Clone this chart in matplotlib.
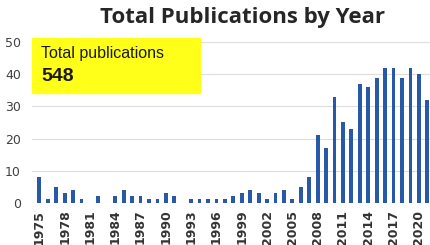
import matplotlib.pyplot as plt
from matplotlib.patches import Rectangle

years = list(range(1975, 2022))
counts = [8, 1, 5, 3, 4, 1, 0, 2, 0, 2, 4, 2, 2, 1, 1, 3, 2,
          0, 1, 1, 1, 1, 1, 2, 3, 4, 3, 1, 3, 4, 1, 5, 8,
          21, 17, 33, 25, 23, 37, 36, 39, 42, 42, 39, 42, 40, 32]
tick_years = list(range(1975, 2021, 3))
total = sum(counts)

fig = plt.figure(figsize=(4.3, 2.45), dpi=100)
ax = fig.add_axes([32 / 430, (245 - 202.7) / 245, 398 / 430, 160.4 / 245])

ax.bar(years, counts, width=0.45, color='#2858a8', zorder=3)
ax.set_xlim(1974.13, 2021.32)
ax.set_ylim(0, 50)
ax.set_yticks(range(0, 51, 10))
ax.set_xticks(tick_years)
ax.set_xticklabels([str(y) for y in tick_years], rotation=90,
                   fontsize=9, fontweight='bold', color='#333333')
ax.tick_params(axis='y', labelsize=9, labelcolor='#404040', length=0, pad=8)
ax.tick_params(axis='x', length=0, pad=5)
ax.grid(axis='y', color='#dddddd', lw=0.8, zorder=0)
for s in ax.spines.values():
    s.set_visible(False)
ax.axhline(0, color='#e4e4e4', lw=0.8, zorder=1)

# yellow summary box
box = Rectangle((32 / 430, (245 - 93) / 245), 168 / 430, 55 / 245,
                transform=fig.transFigure, color='#ffff1a', zorder=5)
fig.patches.append(box)
fig.text(41 / 430, (245 - 53) / 245, 'Total publications', fontsize=11.5,
         family='Liberation Sans', color='#1a1a1a', va='center', zorder=6)
fig.text(41 / 430, (245 - 76.5) / 245, str(total), fontsize=14, fontweight='bold',
         family='Liberation Sans', color='#1a1a1a', va='center', zorder=6)

fig.text(243 / 430, (245 - 18) / 245, 'Total Publications by Year', fontsize=16,
         fontweight='bold', family='Open Sans', color='#262626',
         ha='center', va='center')

fig.savefig('out.png', dpi=100)
